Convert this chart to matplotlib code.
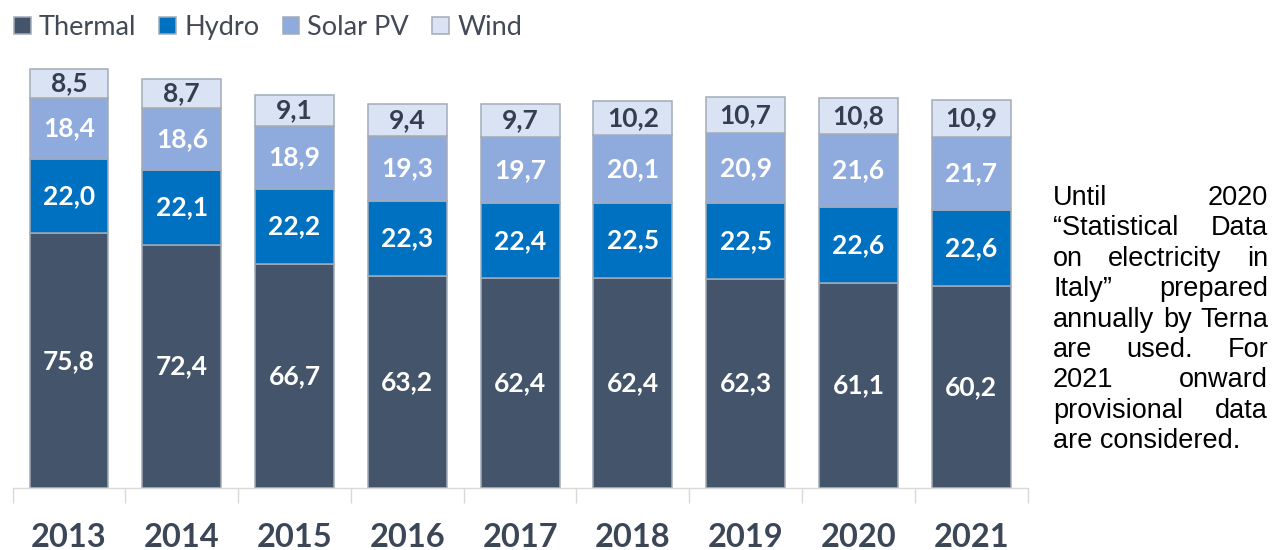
import matplotlib
matplotlib.use("Agg")
import matplotlib.pyplot as plt
import numpy as np

years = ["2013", "2014", "2015", "2016", "2017", "2018", "2019", "2020", "2021"]
thermal = [75.8, 72.4, 66.7, 63.2, 62.4, 62.4, 62.3, 61.1, 60.2]
hydro = [22.0, 22.1, 22.2, 22.3, 22.4, 22.5, 22.5, 22.6, 22.6]
solar = [18.4, 18.6, 18.9, 19.3, 19.7, 20.1, 20.9, 21.6, 21.7]
wind = [8.5, 8.7, 9.1, 9.4, 9.7, 10.2, 10.7, 10.8, 10.9]
series_names = ["Thermal", "Hydro", "Solar PV", "Wind"]
note_lines = [
    "Until 2020",
    "\u201cStatistical Data",
    "on electricity in",
    "Italy\u201d prepared",
    "annually by Terna",
    "are used. For",
    "2021 onward",
    "provisional data",
    "are considered.",
]

colors = ["#44546A", "#0070C0", "#8FAADC", "#DAE3F3"]
label_colors = ["white", "white", "white", "#333F50"]
edge = "#A3ABB6"

W, H = 1274, 550
fig = plt.figure(figsize=(W / 100, H / 100), dpi=100)
ax = fig.add_axes([12.6 / W, (H - 488) / H, 1015 / W, 436.8 / H])

x = np.arange(len(years))
data = [thermal, hydro, solar, wind]
bottom = np.zeros(len(years))
containers = []
for vals, c, lc, name in zip(data, colors, label_colors, series_names):
    vals = np.array(vals)
    bc = ax.bar(x, vals, width=0.70, bottom=bottom, color=c, edgecolor=edge,
                linewidth=1.1, label=name, zorder=2)
    containers.append(bc)
    ax.bar_label(bc, labels=[f"{v:.1f}".replace(".", ",") for v in vals],
                 label_type="center", color=lc, fontsize=19,
                 fontweight="bold", family="Lato")
    bottom += vals

ax.set_xlim(-0.5, len(years) - 0.5)
ax.set_ylim(0, 130)
ax.set_yticks([])
for s in ["top", "right", "left"]:
    ax.spines[s].set_visible(False)
ax.spines["bottom"].set_color("#D9D9D9")
ax.spines["bottom"].set_linewidth(1.0)
ax.set_xticks(x, years)
ax.set_xticks(np.arange(-0.5, len(years), 1.0), minor=True)
ax.tick_params(axis="x", which="major", length=0, pad=25)
ax.tick_params(axis="x", which="minor", length=10.8, width=1.0, color="#D9D9D9")
for t in ax.get_xticklabels():
    t.set_fontsize(23.5)
    t.set_fontweight("bold")
    t.set_family("Lato")
    t.set_color("#3B4656")

fig.legend(handles=containers, labels=series_names, loc="upper left",
           bbox_to_anchor=(14 / W, 1 - 15 / H), ncol=4, frameon=False,
           prop={"family": "Lato", "size": 19.5}, handlelength=0.62,
           handleheight=0.62, handletextpad=0.3, columnspacing=0.85,
           borderpad=0, borderaxespad=0, labelcolor="#424A55")

# justified note on the right
fig.canvas.draw()
renderer = fig.canvas.get_renderer()
fp = dict(family="Liberation Sans", fontsize=19.5, color="black")
x0, x1 = 1053, 1268
def width_of(s):
    t = fig.text(0, 0, s, **fp)
    w = t.get_window_extent(renderer).width
    t.remove()
    return w

for i, line in enumerate(note_lines):
    yb = 1 - (205 + 30.4 * i) / H
    words = line.split()
    if i == len(note_lines) - 1 or len(words) == 1:
        fig.text(x0 / W, yb, line, va="baseline", ha="left", **fp)
        continue
    ws = [width_of(w) for w in words]
    gap = (x1 - x0 - sum(ws)) / (len(words) - 1)
    xp = x0
    for w, wd in zip(words, ws):
        fig.text(xp / W, yb, w, va="baseline", ha="left", **fp)
        xp += wd + gap

fig.savefig("out.png", dpi=100)
